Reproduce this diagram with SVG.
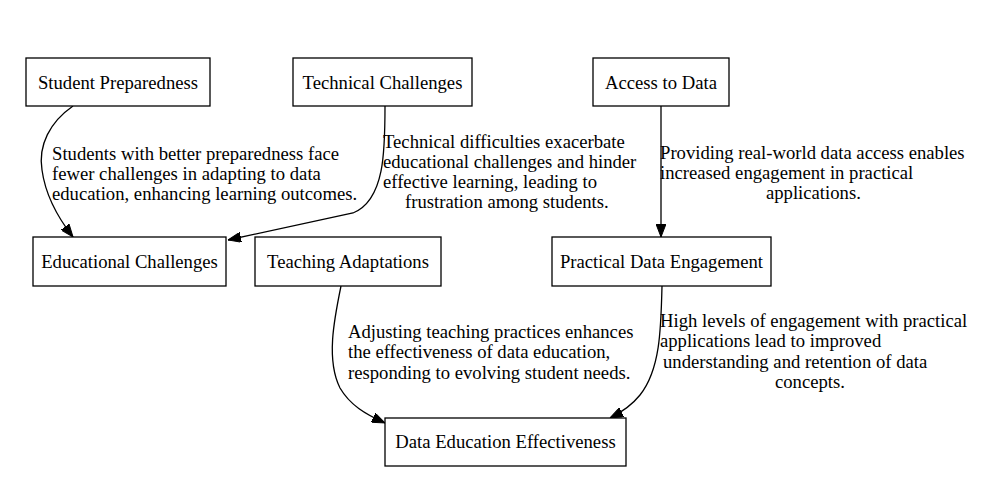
<svg xmlns="http://www.w3.org/2000/svg" width="991" height="493" viewBox="0 0 991 493">
<style>
  .node rect { fill: #ffffff; stroke: #000000; stroke-width: 1.3; }
  .node text { font-family: "Liberation Serif", "Times New Roman", serif; font-size: 18.67px; text-anchor: middle; fill: #000; }
  .edge path { fill: none; stroke: #000; stroke-width: 1.3; marker-end: url(#arrow); }
  .lbl { font-family: "Liberation Serif", "Times New Roman", serif; font-size: 18.67px; fill: #000; }
</style>
<defs>
  <marker id="arrow" viewBox="0 0 13 10" refX="13" refY="5" markerWidth="13" markerHeight="10" markerUnits="userSpaceOnUse" orient="auto">
    <path d="M0,0 L13,5 L0,10 z" fill="#000" stroke="#000" stroke-width="1"/>
  </marker>
</defs>
<rect width="991" height="493" fill="#ffffff"/>
<g id="edges">
  <g class="edge" id="e1"><path d="M73,106 C50,122 38,145 42,170 C45,192 55,214 73,237"/></g>
  <g class="edge" id="e2"><path d="M385,106 C385,150 385,200 353,213 L228,240"/></g>
  <g class="edge" id="e3"><path d="M661,106 L661,237"/></g>
  <g class="edge" id="e4"><path d="M341,286 C334,320 326,360 340,388 C350,405 365,414 385,423"/></g>
  <g class="edge" id="e5"><path d="M662,286 C661,330 660,370 640,395 C632,405 622,412 610,418"/></g>
  <text class="lbl" x="52" y="160">Students with better preparedness face</text>
  <text class="lbl" x="52" y="180">fewer challenges in adapting to data</text>
  <text class="lbl" x="52" y="200">education, enhancing learning outcomes.</text>
  <text class="lbl" x="383" y="148">Technical difficulties exacerbate</text>
  <text class="lbl" x="383" y="168">educational challenges and hinder</text>
  <text class="lbl" x="383" y="188">effective learning, leading to</text>
  <text class="lbl" x="405" y="208">frustration among students.</text>
  <text class="lbl" x="660" y="159">Providing real-world data access enables</text>
  <text class="lbl" x="660" y="179">increased engagement in practical</text>
  <text class="lbl" x="766" y="199">applications.</text>
  <text class="lbl" x="348" y="338">Adjusting teaching practices enhances</text>
  <text class="lbl" x="348" y="358">the effectiveness of data education,</text>
  <text class="lbl" x="348" y="379">responding to evolving student needs.</text>
  <text class="lbl" x="660" y="327">High levels of engagement with practical</text>
  <text class="lbl" x="660" y="347">applications lead to improved</text>
  <text class="lbl" x="663" y="368">understanding and retention of data</text>
  <text class="lbl" x="775" y="388">concepts.</text>
</g>
<g class="node" id="student_preparedness"><rect x="26" y="58" width="184" height="48"/><text x="118" y="88.5">Student Preparedness</text></g>
<g class="node" id="technical_challenges"><rect x="293" y="58" width="179" height="48"/><text x="382.5" y="88.5">Technical Challenges</text></g>
<g class="node" id="access_to_data"><rect x="593" y="58" width="136" height="48"/><text x="661" y="88.5">Access to Data</text></g>
<g class="node" id="educational_challenges"><rect x="33" y="237" width="193" height="49"/><text x="129.5" y="268">Educational Challenges</text></g>
<g class="node" id="teaching_adaptations"><rect x="255" y="237" width="186" height="49"/><text x="348" y="268">Teaching Adaptations</text></g>
<g class="node" id="practical_data_engagement"><rect x="552" y="237" width="219" height="49"/><text x="661.5" y="268">Practical Data Engagement</text></g>
<g class="node" id="data_education_effectiveness"><rect x="385" y="418" width="241" height="48"/><text x="505.5" y="448">Data Education Effectiveness</text></g>
</svg>
